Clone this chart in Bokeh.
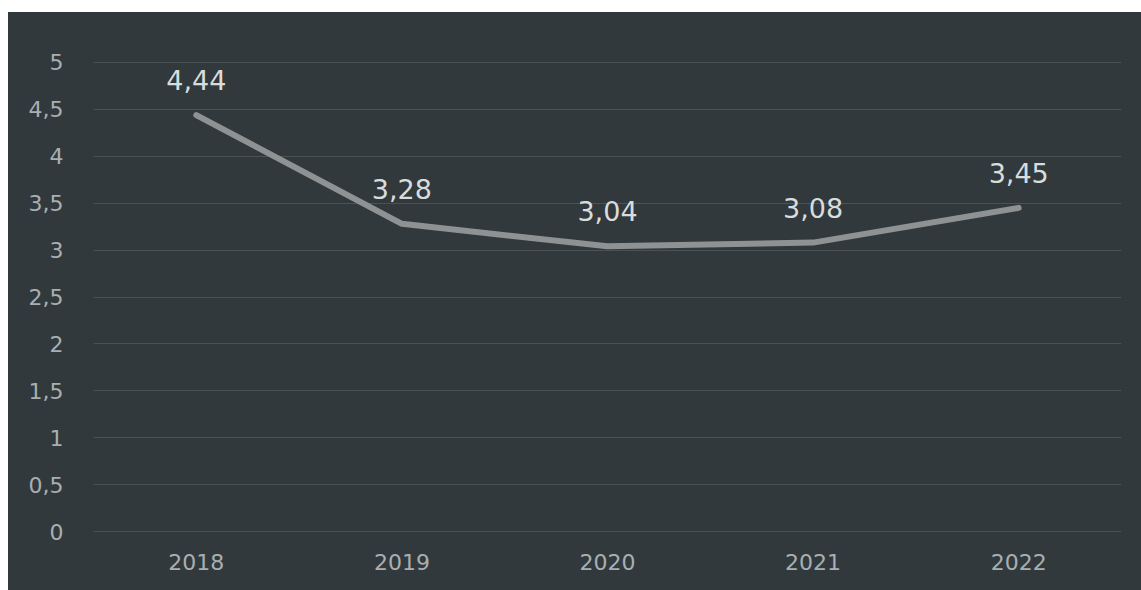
from bokeh.plotting import figure
from bokeh.models import ColumnDataSource, Range1d, FactorRange, FixedTicker, Spacer
from bokeh.layouts import column, row
from bokeh.core.properties import value
from bokeh.embed import file_html
from bokeh.resources import INLINE

years = ["2018", "2019", "2020", "2021", "2022"]
values = [4.44, 3.28, 3.04, 3.08, 3.45]
value_labels = ["4,44", "3,28", "3,04", "3,08", "3,45"]
y_ticks = [0, 0.5, 1, 1.5, 2, 2.5, 3, 3.5, 4, 4.5, 5]
y_tick_labels = ["0", "0,5", "1", "1,5", "2", "2,5", "3", "3,5", "4", "4,5", "5"]

BG = "#31393d"

src = ColumnDataSource(dict(x=years, y=values, lbl=value_labels))

p = figure(
    width=1133, height=578,
    x_range=FactorRange(*years),
    y_range=Range1d(-0.149, 5.533),
    output_backend="svg", toolbar_location=None,
    min_border_left=85, min_border_right=20, min_border_top=0, min_border_bottom=45,
    background_fill_color=BG, border_fill_color=BG,
)
p.styles = {"background-color": BG}
p.outline_line_color = None

p.line("x", "y", source=src, line_color="#8e9293", line_width=6, line_join="round", line_cap="round")
p.text("x", "y", text="lbl", source=src, text_align="center", text_baseline="alphabetic",
       y_offset=-35, text_font=value("DejaVu Sans"), text_font_size="27px", text_color="#d8dcdc")

p.yaxis.ticker = FixedTicker(ticks=y_ticks)
p.yaxis.major_label_overrides = {t: l for t, l in zip(y_ticks, y_tick_labels)}
for ax in (p.xaxis[0], p.yaxis[0]):
    ax.axis_line_color = None
    ax.major_tick_line_color = None
    ax.minor_tick_line_color = None
    ax.major_label_text_font = "DejaVu Sans"
    ax.major_label_text_font_size = "22px"
    ax.major_label_text_color = "#a9afb0"
p.yaxis.major_label_standoff = 24
p.xaxis.major_label_standoff = 2

p.xgrid.grid_line_color = None
p.ygrid.grid_line_color = "#7a8286"
p.ygrid.grid_line_alpha = 0.35
p.ygrid.grid_line_width = 1

layout = column(Spacer(height=12), row(Spacer(width=8), p))
open("out.html", "w").write(file_html(layout, INLINE))
